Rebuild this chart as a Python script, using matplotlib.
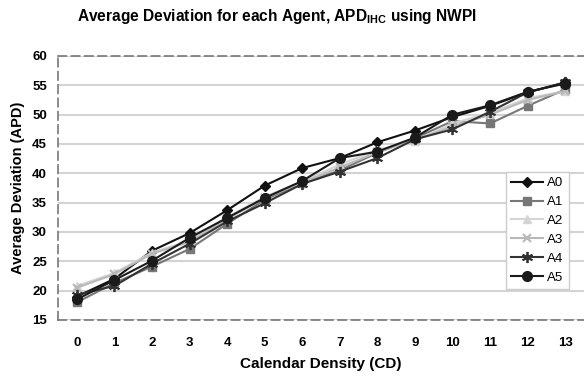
import matplotlib
matplotlib.use("Agg")
import matplotlib.pyplot as plt

plt.rcParams['font.family'] = ['Liberation Sans', 'DejaVu Sans']
plt.rcParams['mathtext.fontset'] = 'custom'
plt.rcParams['mathtext.rm'] = 'Liberation Sans:bold'
plt.rcParams['mathtext.it'] = 'Liberation Sans:bold'
plt.rcParams['mathtext.bf'] = 'Liberation Sans:bold'

# Calendar density values on the x axis
cd = list(range(14))

# Average deviation per agent
a0 = [19.0, 22.0, 26.8, 29.8, 33.7, 37.9, 40.9, 42.6, 45.3, 47.3, 49.6, 51.5, 53.8, 55.5]
a1 = [18.0, 21.3, 24.1, 27.1, 31.4, 35.5, 38.3, 40.5, 43.5, 46.0, 48.9, 48.5, 51.5, 54.3]
a2 = [20.8, 23.0, 26.5, 28.5, 32.5, 36.0, 38.6, 41.5, 44.0, 45.5, 48.5, 50.3, 52.8, 54.0]
a3 = [20.5, 22.8, 26.3, 28.3, 32.2, 35.8, 38.4, 41.0, 43.6, 45.7, 48.0, 50.0, 52.5, 54.0]
a4 = [19.3, 20.8, 24.6, 28.0, 31.8, 34.9, 38.2, 40.3, 42.6, 45.8, 47.5, 50.5, 53.8, 55.5]
a5 = [18.5, 21.8, 25.1, 29.0, 32.4, 35.8, 38.7, 42.6, 43.7, 46.1, 50.0, 51.6, 53.9, 55.3]

agents = ['A0', 'A1', 'A2', 'A3', 'A4', 'A5']
series = [a0, a1, a2, a3, a4, a5]
y_ticks = [15, 20, 25, 30, 35, 40, 45, 50, 55, 60]

styles = [
    dict(color='#111111', marker='D', markersize=5),
    dict(color='#777777', marker='s', markersize=6),
    dict(color='#d4d4d4', marker='^', markersize=6),
    dict(color='#b8b8b8', marker='x', markersize=6, markeredgewidth=1.5),
    dict(color='#333333', marker=(6, 2, 0), markersize=8, markeredgewidth=1.3),
    dict(color='#1a1a1a', marker='o', markersize=7),
]

fig = plt.figure(figsize=(5.84, 3.76), dpi=100)
ax = fig.add_axes([58 / 584, 56 / 376, 1 - 58 / 584, 264 / 376])

for name, vals, st in zip(agents, series, styles):
    ax.plot(cd, vals, linewidth=1.5, label=name, **st)

ax.set_xlim(-0.5, 13.5)
ax.set_ylim(15, 60)
ax.set_xticks(cd)
ax.set_yticks(y_ticks)
ax.tick_params(axis='both', length=0, labelsize=9.5)
ax.tick_params(axis='y', pad=8)
ax.tick_params(axis='x', pad=12)
for lbl in ax.get_xticklabels() + ax.get_yticklabels():
    lbl.set_fontweight('bold')

ax.yaxis.grid(True, color='#d3d3d3', linewidth=1.5)
ax.set_axisbelow(True)
for side in ['top', 'bottom', 'left']:
    ax.spines[side].set_linestyle((0, (5, 3)))
    ax.spines[side].set_color('#777777')
    ax.spines[side].set_linewidth(1.2)
ax.spines['right'].set_visible(False)

ax.set_xlabel('Calendar Density (CD)', fontsize=11, fontweight='bold', labelpad=6)
ax.set_ylabel('Average Deviation (APD)', fontsize=10.5, fontweight='bold', labelpad=5)

fig.text(0.475, 0.955, r'Average Deviation for each Agent, APD$_{\mathrm{IHC}}$ using NWPI',
         ha='center', va='center', fontsize=11.2, fontweight='bold')

leg = ax.legend(loc='lower left', bbox_to_anchor=(0.852, 0.118), fontsize=9.5,
                handlelength=2.4, labelspacing=0.5, handletextpad=0.3,
                borderpad=0.4, fancybox=False, framealpha=1, borderaxespad=0)
leg.get_frame().set_edgecolor('#cccccc')
leg.get_frame().set_linewidth(1.0)

fig.savefig('out.png', dpi=100)
